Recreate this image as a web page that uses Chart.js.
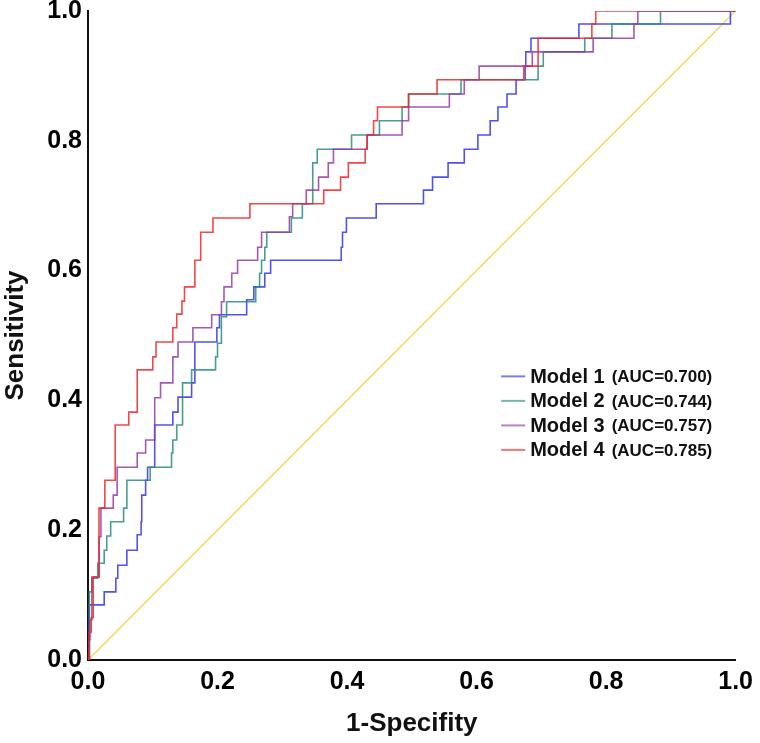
<!DOCTYPE html>
<html>
<head>
<meta charset="utf-8">
<script src="https://cdn.jsdelivr.net/npm/chart.js@4/dist/chart.umd.min.js"></script>
<style>
  html, body { margin: 0; padding: 0; background: #fff; }
  #wrap { width: 760px; height: 743px; }
</style>
</head>
<body>
<div id="wrap"><canvas id="c" width="760" height="743"></canvas></div>
<script>
// ---- data ----
const modelNames = ['Model 1', 'Model 2', 'Model 3', 'Model 4'];
const aucLabels = ['(AUC=0.700)', '(AUC=0.744)', '(AUC=0.757)', '(AUC=0.785)'];
const tickValues = [0, 0.2, 0.4, 0.6, 0.8, 1.0];
const xTitle = '1-Specifity';
const yTitle = 'Sensitivity';

const fpr1 = [0, 0.002, 0.025, 0.043, 0.046, 0.060, 0.076, 0.082, 0.083, 0.089, 0.092, 0.103, 0.131, 0.139, 0.160, 0.165, 0.199, 0.203, 0.245, 0.256, 0.273, 0.282, 0.391, 0.393, 0.399, 0.445, 0.518, 0.532, 0.556, 0.581, 0.602, 0.621, 0.633, 0.647, 0.661, 0.675, 0.676, 0.684, 0.758, 0.992, 1.0];
const tpr1 = [0, 0.085, 0.105, 0.126, 0.146, 0.169, 0.193, 0.213, 0.254, 0.277, 0.297, 0.362, 0.382, 0.405, 0.427, 0.490, 0.512, 0.532, 0.555, 0.575, 0.596, 0.616, 0.636, 0.659, 0.681, 0.703, 0.724, 0.744, 0.766, 0.787, 0.809, 0.831, 0.852, 0.872, 0.894, 0.915, 0.937, 0.958, 0.980, 1.0, 1.0];

const fpr2 = [0, 0.002, 0.006, 0.015, 0.025, 0.029, 0.035, 0.055, 0.060, 0.096, 0.129, 0.131, 0.137, 0.146, 0.160, 0.197, 0.200, 0.206, 0.214, 0.259, 0.265, 0.268, 0.273, 0.276, 0.314, 0.331, 0.347, 0.354, 0.407, 0.450, 0.485, 0.495, 0.576, 0.695, 0.703, 0.767, 0.809, 0.884, 1.0];
const tpr2 = [0, 0.105, 0.126, 0.149, 0.169, 0.191, 0.213, 0.234, 0.277, 0.297, 0.319, 0.339, 0.362, 0.427, 0.447, 0.467, 0.488, 0.529, 0.552, 0.575, 0.596, 0.616, 0.636, 0.659, 0.681, 0.703, 0.766, 0.787, 0.809, 0.831, 0.852, 0.872, 0.894, 0.915, 0.937, 0.958, 0.980, 1.0, 1.0];

const fpr3 = [0, 0.002, 0.003, 0.006, 0.017, 0.020, 0.039, 0.045, 0.076, 0.089, 0.103, 0.112, 0.131, 0.139, 0.162, 0.191, 0.206, 0.210, 0.222, 0.231, 0.262, 0.268, 0.311, 0.316, 0.337, 0.356, 0.371, 0.379, 0.431, 0.485, 0.495, 0.558, 0.581, 0.604, 0.686, 0.780, 0.843, 0.849, 1.0];
const tpr3 = [0, 0.031, 0.062, 0.128, 0.190, 0.234, 0.254, 0.297, 0.319, 0.339, 0.404, 0.427, 0.467, 0.490, 0.512, 0.532, 0.552, 0.575, 0.596, 0.616, 0.636, 0.659, 0.683, 0.703, 0.724, 0.744, 0.766, 0.787, 0.809, 0.831, 0.852, 0.872, 0.894, 0.915, 0.937, 0.958, 0.980, 1.0, 1.0];

const fpr4 = [0, 0.002, 0.005, 0.008, 0.017, 0.026, 0.042, 0.063, 0.076, 0.100, 0.105, 0.131, 0.137, 0.145, 0.149, 0.165, 0.174, 0.193, 0.250, 0.364, 0.390, 0.402, 0.428, 0.431, 0.441, 0.447, 0.495, 0.539, 0.673, 0.695, 0.778, 0.784, 1.0];
const tpr4 = [0, 0.043, 0.065, 0.128, 0.234, 0.277, 0.362, 0.382, 0.447, 0.467, 0.490, 0.512, 0.533, 0.553, 0.575, 0.616, 0.659, 0.681, 0.703, 0.724, 0.744, 0.766, 0.787, 0.809, 0.831, 0.852, 0.872, 0.894, 0.915, 0.958, 0.980, 1.0, 1.0];

const refX = [0, 1];
const refY = [0, 1];

// ---- styles ----
const colors = ['rgba(50,50,235,0.85)', 'rgba(40,140,125,0.85)', 'rgba(145,60,165,0.85)', 'rgba(235,40,40,0.85)'];
const FONT = "'Liberation Sans', Arial, Helvetica, sans-serif";

const toPts = (xs, ys) => xs.map((x, i) => ({ x: x, y: ys[i] }));
const series = [[fpr1, tpr1], [fpr2, tpr2], [fpr3, tpr3], [fpr4, tpr4]];

const datasets = series.map((s, i) => ({
  label: modelNames[i],
  data: toPts(s[0], s[1]),
  showLine: true,
  stepped: 'before',
  borderColor: colors[i],
  borderWidth: 1.6,
  pointRadius: 0,
  fill: false,
  order: 4 - i
}));
datasets.push({
  label: 'Reference',
  data: toPts(refX, refY),
  showLine: true,
  borderColor: '#ecd84a',
  borderWidth: 1.3,
  pointRadius: 0,
  fill: false,
  order: 10
});

const legendPlugin = {
  id: 'rocLegend',
  afterDraw(chart) {
    const ctx = chart.ctx;
    const a = chart.chartArea;
    const w = a.right - a.left, h = a.bottom - a.top;
    const x0 = a.left + 0.638 * w;
    const lineLen = 24;
    const y0 = a.top + 0.563 * h;
    const dy = 24.5;
    ctx.save();
    for (let i = 0; i < modelNames.length; i++) {
      const y = y0 + i * dy;
      ctx.strokeStyle = colors[i];
      ctx.globalAlpha = 0.75;
      ctx.lineWidth = 2;
      ctx.beginPath();
      ctx.moveTo(x0, y);
      ctx.lineTo(x0 + lineLen, y);
      ctx.stroke();
      ctx.globalAlpha = 1;
      ctx.fillStyle = '#111';
      ctx.textBaseline = 'middle';
      ctx.textAlign = 'left';
      ctx.font = 'bold 20px ' + FONT;
      const tx = x0 + lineLen + 5;
      ctx.fillText(modelNames[i], tx, y + 1);
      const tw = ctx.measureText(modelNames[i]).width;
      ctx.font = 'bold 17px ' + FONT;
      ctx.fillText(aucLabels[i], tx + tw + 7, y + 1);
    }
    ctx.restore();
  }
};

new Chart(document.getElementById('c'), {
  type: 'scatter',
  data: { datasets: datasets },
  options: {
    responsive: false,
    animation: false,
    events: [],
    layout: { padding: { top: 0, right: 21, left: 0, bottom: 0 } },
    plugins: { legend: { display: false }, tooltip: { enabled: false } },
    scales: {
      x: {
        type: 'linear',
        min: 0, max: 1,
        afterFit: (s) => { s.height = 83; },
        afterBuildTicks: (s) => { s.ticks = tickValues.map(v => ({ value: v })); },
        grid: { display: false, drawTicks: false },
        border: { display: true, color: '#111', width: 2 },
        ticks: {
          padding: 7,
          color: '#000',
          font: { family: FONT, size: 25, weight: 'bold' },
          callback: (v) => Number(v).toFixed(1),
          maxRotation: 0
        },
        title: {
          display: true, text: xTitle, color: '#111',
          font: { family: FONT, size: 26, weight: 'bold' },
          padding: { top: 0, bottom: 4 }
        }
      },
      y: {
        type: 'linear',
        min: 0, max: 1,
        afterFit: (s) => { s.width = 88; s.paddingTop = 11; },
        afterBuildTicks: (s) => { s.ticks = tickValues.map(v => ({ value: v })); },
        grid: { display: false, drawTicks: false },
        border: { display: true, color: '#111', width: 2 },
        ticks: {
          padding: 6,
          color: '#000',
          font: { family: FONT, size: 25, weight: 'bold', lineHeight: 0.88 },
          callback: (v) => Number(v).toFixed(1)
        },
        title: {
          display: true, text: yTitle, color: '#111',
          font: { family: FONT, size: 26, weight: 'bold' },
          padding: { top: 0, bottom: 0 }
        }
      }
    }
  },
  plugins: [legendPlugin]
});
</script>
</body>
</html>
